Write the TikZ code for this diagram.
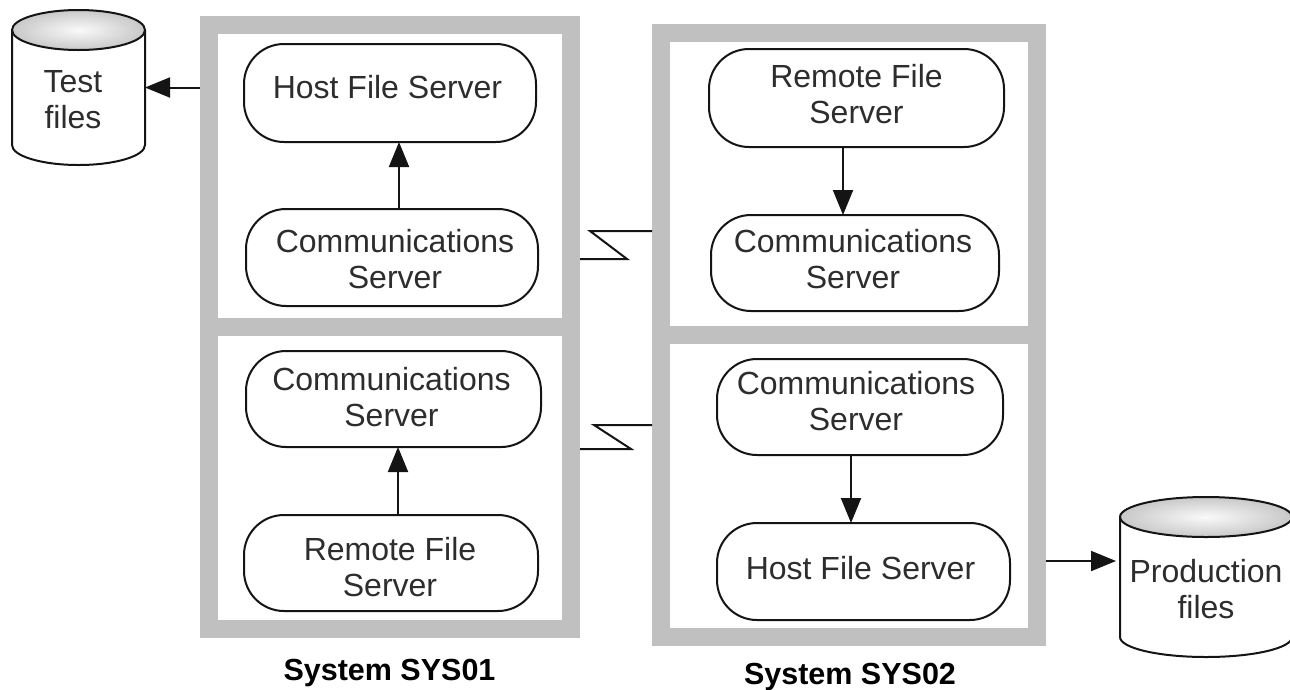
\documentclass[tikz,border=0pt]{standalone}
\usepackage{fontspec}
\setmainfont{Liberation Sans}
\usetikzlibrary{positioning,shapes,arrows.meta}
\definecolor{framegray}{RGB}{192,192,192}
\definecolor{topgray}{RGB}{200,200,200}
\definecolor{inkblack}{RGB}{20,20,20}
\definecolor{textgray}{RGB}{45,45,45}
\tikzset{
  panel/.style={draw=framegray, line width=18pt, fill=white, minimum width=#1, minimum height=302pt},
  server/.style n args={2}{draw=inkblack, line width=2pt, rounded corners=40pt, outer sep=0pt,
    minimum width=#1, minimum height=#2, inner sep=0pt},
  words/.style={align=center, inner sep=0pt, text=textgray, font=\fontsize{32}{36}\selectfont},
  disk/.style n args={2}{minimum width=#1, minimum height=#2, inner sep=0pt, outer sep=0pt},
  disktop/.style n args={2}{draw=inkblack, line width=2pt, shape=ellipse, inner sep=0pt, outer sep=0pt, minimum width=#1,
    minimum height=#2, inner color=white!90!topgray, outer color=topgray},
  flow/.style={draw=inkblack, line width=2pt, -{Triangle[length=25pt,width=20pt]}},
  bolt/.style={draw=inkblack, line width=2pt},
  caption/.style={font=\fontsize{30.5}{36}\selectfont\bfseries}
}
\begin{document}
\begin{tikzpicture}[x=1pt,y=-1pt]
  \useasboundingbox (0,0) rectangle (1290,689);

  % frames
  \node[panel=362pt] (upleft) at (390,176) {};
  \node[panel=362pt] (lowleft) at (390,478) {};
  \node[panel=376pt] (upright) at (849,184) {};
  \node[panel=376pt] (lowright) at (849,486) {};

  % system SYS01
  \node[server={292pt}{98pt}, label={[words, xshift=-2.5pt, yshift=6pt]center:Host File Server}] (hosta) at (390,93) {};
  \node[server={292pt}{97pt}, below=67pt of hosta, xshift=2pt,
    label={[words, xshift=3pt, yshift=-2pt]center:Communications\\Server}] (comma) {};
  \node[server={295pt}{96pt}, label={[words, xshift=-2pt, yshift=1.5pt]center:Communications\\Server}] (commb) at (393.5,399) {};
  \node[server={294pt}{96pt}, below=68pt of commb, xshift=-2.5pt,
    label={[words, xshift=-1pt, yshift=-4.5pt]center:Remote File\\Server}] (remotea) {};

  % system SYS02
  \node[server={295pt}{98pt}, label={[words, yshift=4pt]center:Remote File\\Server}] (remoteb) at (856.5,98) {};
  \node[server={288pt}{96pt}, below=68pt of remoteb, xshift=-1.5pt,
    label={[words, xshift=-2pt, yshift=4pt]center:Communications\\Server}] (commc) {};
  \node[server={286pt}{96pt}, label={[words, xshift=-4pt, yshift=6pt]center:Communications\\Server}] (commd) at (860,407) {};
  \node[server={293pt}{97pt}, below=68pt of commd, xshift=3.5pt,
    label={[words, xshift=-3pt, yshift=3pt]center:Host File Server}] (hostb) {};

  \draw[flow] (comma.north -| 399,0) -- (hosta.south -| 399,0);
  \draw[flow] (remotea.north -| 398,0) -- (commb.south -| 398,0);
  \draw[flow] (remoteb.south -| 843,0) -- (commc.north -| 843,0);
  \draw[flow] (commd.south -| 851,0) -- (hostb.north -| 851,0);

  % files
  \node[disk={133pt}{155pt}, label={[words, xshift=-5.5pt, yshift=-12pt]center:Test\\files}] (test) at (78.5,87.5) {};
  \node[disktop={133pt}{40pt}] (testtop) at (78.5,30) {};
  \draw[draw=inkblack, line width=2pt] (testtop.west) -- ++(0,115)
    arc[start angle=180, end angle=360, x radius=66.5pt, y radius=20pt] -- (testtop.east);
  \node[disk={172pt}{160pt}, label={[words, yshift=-12.5pt]center:Production\\files}] (prod) at (1206,577) {};
  \node[disktop={172pt}{40pt}] (prodtop) at (1206,517) {};
  \draw[draw=inkblack, line width=2pt] (prodtop.west) -- ++(0,120)
    arc[start angle=180, end angle=360, x radius=86pt, y radius=20pt] -- (prodtop.east);

  \coordinate (prodin) at (1116,561);
  \draw[flow] (upleft.west |- test.east) -- (test.east);
  \draw[flow] (lowright.east |- prodin) -- (prodin);

  % links
  \coordinate (bolta) at (590,231);
  \coordinate (boltb) at (627,259);
  \coordinate (boltc) at (594,425);
  \coordinate (boltd) at (631,449);
  \draw[bolt] (upright.west |- bolta) -- (bolta) -- (boltb) -- (upleft.east |- boltb);
  \draw[bolt] (lowright.west |- boltc) -- (boltc) -- (boltd) -- (lowleft.east |- boltd);

  \node[caption] (sysone) at (389.5,673) {System SYS01};
  \node[caption] (systwo) at (850,677) {System SYS02};
\end{tikzpicture}
\end{document}
